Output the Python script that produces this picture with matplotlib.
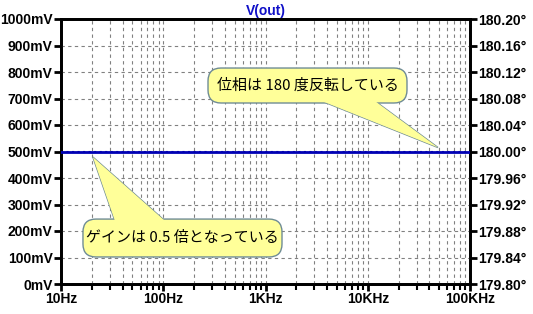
#!/usr/bin/env python3
"""
Bode plot of V(out): gain 0.5 and phase 180 deg, flat from 10Hz to 100KHz.
"""
import matplotlib
matplotlib.use('Agg')
import matplotlib.pyplot as plt
import matplotlib.transforms as mtransforms
from matplotlib.patches import FancyBboxPatch, Polygon
from matplotlib.ticker import FixedLocator, LogLocator, NullFormatter

# data
freq_hz = [10, 100, 1000, 10000, 100000]
gain_v = [0.5, 0.5, 0.5, 0.5, 0.5]
phase_deg = [180.0, 180.0, 180.0, 180.0, 180.0]

x_ticks = [10, 100, 1000, 10000, 100000]
x_labels = ['10Hz', '100Hz', '1KHz', '10KHz', '100KHz']
y_ticks = [i / 10 for i in range(11)]
y_labels = ['%dmV' % round(v * 1000) for v in y_ticks]
phase_ticks = [179.80, 179.84, 179.88, 179.92, 179.96, 180.00,
               180.04, 180.08, 180.12, 180.16, 180.20]
phase_labels = ['%.2f°' % p for p in phase_ticks]

# callouts: (text, box (x0, x1, y0, y1), wedge base x, wedge base y, tip)
callouts = [
    ('位相は 180 度反転している', (274, 24200, 0.683, 0.815),
     (3570, 11800), 0.690, (48600, 0.515)),
    ('ゲインは 0.5 倍となっている', (16.4, 1450, 0.102, 0.245),
     (33.7, 104), 0.238, (20.5, 0.479)),
]

LABEL_FONT = dict(family='Liberation Sans', weight='bold', size=10)


def draw_callout(ax, text, box, base_x, base_y, tip):
    disp = mtransforms.IdentityTransform()
    (bx0, by0), (bx1, by1) = ax.transData.transform([(box[0], box[2]), (box[1], box[3])])
    b1, b2, t = ax.transData.transform([(base_x[0], base_y), (base_x[1], base_y), tip])
    face = '#ffff99'
    edge = '#6f8c95'
    wedge_edge = Polygon([b1, t, b2], closed=True, transform=disp, facecolor=face,
                         edgecolor=edge, lw=1.0, zorder=5, clip_on=False)
    rect = FancyBboxPatch((bx0, by0), bx1 - bx0, by1 - by0,
                          boxstyle='round,pad=0,rounding_size=13', transform=disp,
                          facecolor=face, edgecolor=edge, lw=1.0, zorder=6, clip_on=False)
    wedge_fill = Polygon([b1, t, b2], closed=True, transform=disp, facecolor=face,
                         edgecolor='none', zorder=7, clip_on=False)
    for p in (wedge_edge, rect, wedge_fill):
        ax.add_patch(p)
    ax.text((bx0 + bx1) / 2, (by0 + by1) / 2, text, transform=disp,
            ha='center', va='center', fontsize=10.8, zorder=8,
            family=['Noto Sans CJK JP', 'DejaVu Sans'])


def main():
    fig = plt.figure(figsize=(5.33, 3.14), dpi=100)
    ax = fig.add_axes([61 / 533, 1 - 284 / 314, 409 / 533, 265 / 314])
    ax2 = ax.twinx()

    ax.semilogx(freq_hz, gain_v, color='#0000b4', lw=2.0, zorder=3)
    ax2.plot(freq_hz, phase_deg, color='#000080', lw=1.5, ls=':', zorder=3)

    ax.set_xlim(10, 100000)
    ax.set_ylim(0, 1.0)
    ax2.set_ylim(179.8, 180.2)

    ax.xaxis.set_major_locator(FixedLocator(x_ticks))
    ax.set_xticklabels(x_labels, **LABEL_FONT)
    ax.xaxis.set_minor_locator(LogLocator(base=10, subs=range(2, 10)))
    ax.xaxis.set_minor_formatter(NullFormatter())
    ax.set_yticks(y_ticks)
    ax.set_yticklabels(y_labels, **LABEL_FONT)
    ax2.set_yticks(phase_ticks)
    ax2.set_yticklabels(phase_labels, **LABEL_FONT)

    ax.tick_params(which='major', direction='out', length=5, width=2, pad=1, colors='black')
    ax.tick_params(which='minor', direction='out', length=4, width=1.5)
    ax2.tick_params(direction='out', length=5, width=2, pad=1)

    grid = dict(color='#808080', ls=(0, (3, 3)), lw=0.8)
    ax.grid(True, which='both', axis='x', **grid)
    ax.grid(True, which='major', axis='y', **grid)
    ax.set_axisbelow(True)

    for a in (ax, ax2):
        for s in a.spines.values():
            s.set_linewidth(2)
            s.set_color('black')

    ax.set_title('V(out)', color='#1010c8', fontsize=10, fontweight='bold',
                 family='Liberation Sans', pad=3)

    for text, box, base_x, base_y, tip in callouts:
        draw_callout(ax, text, box, base_x, base_y, tip)

    # keep callouts above the twin axis line
    ax.set_zorder(ax2.get_zorder() + 1)
    ax.patch.set_visible(False)

    fig.savefig('out.png', dpi=100)


if __name__ == '__main__':
    main()
